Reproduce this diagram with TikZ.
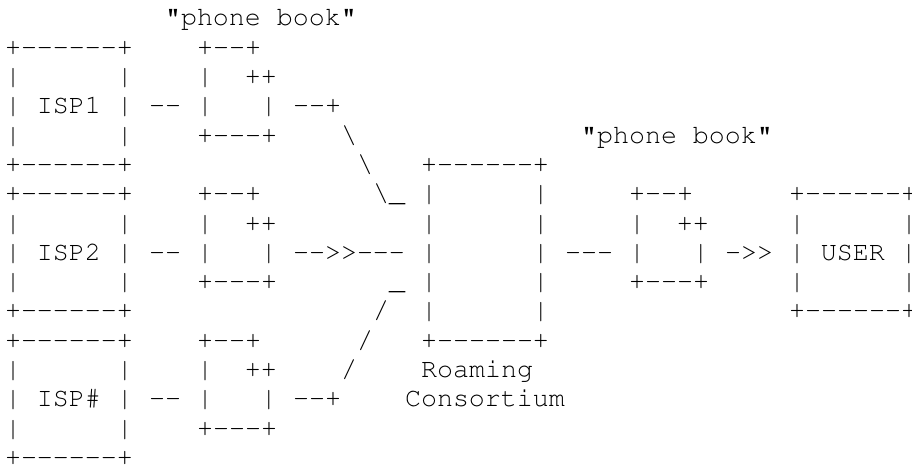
\documentclass[tikz,border=0pt]{standalone}
\usepackage[T1]{fontenc}
\usepackage{tikz}
\usetikzlibrary{positioning}
\newcommand{\asciifont}{\fontfamily{pcr}\fontsize{13.333pt}{14.65pt}\selectfont}
\tikzset{
    ascii/.style={
        font=\asciifont,
        anchor=base west,
        inner sep=0pt,
        outer sep=0pt
    }
}

\begin{document}
\begin{tikzpicture}[x=8pt, y=-14.65pt]
  \useasboundingbox (-2.5pt,13pt) rectangle (453.5pt,-219.5pt);

  % ISP boxes with their phone books ({} keeps -- and >> from ligatures)
  \node[ascii] (pbtitle1) at (10,0) {"phone~book"};
  \foreach \isp/\lbl/\out [count=\k from 0] in {1/ISP1/{-{}-+}, 2/ISP2/{-{}->{}>-{}-{}-}, 3/ISP\#/{-{}-+}} {
    \pgfmathtruncatemacro{\row}{1+5*\k}
    \node[ascii] (isp\isp top) at (0,\row)   {+-{}-{}-{}-{}-{}-+};
    \node[ascii] (isp\isp a)   at (0,\row+1) {|~~~~~~|};
    \node[ascii] (isp\isp)     at (0,\row+2) {|~\lbl~|};
    \node[ascii] (isp\isp b)   at (0,\row+3) {|~~~~~~|};
    \node[ascii] (isp\isp bot) at (0,\row+4) {+-{}-{}-{}-{}-{}-+};
    \node[ascii] (link\isp)    at (9,\row+2) {-{}-};
    \node[ascii] (pb\isp top)  at (12,\row)   {+-{}-+};
    \node[ascii] (pb\isp fold) at (12,\row+1) {|~~++};
    \node[ascii] (pb\isp)      at (12,\row+2) {|~~~|};
    \node[ascii] (pb\isp bot)  at (12,\row+3) {+-{}-{}-+};
    \node[ascii] (out\isp)     at (18,\row+2) {\out};
  }

  % Lines into the consortium
  \node[ascii] (upa) at (21,4)  {\textbackslash};
  \node[ascii] (upb) at (22,5)  {\textbackslash};
  \node[ascii] (upc) at (23,6)  {\textbackslash\_};
  \node[ascii] (lowa) at (24,9)  {\_};
  \node[ascii] (lowb) at (23,10) {/};
  \node[ascii] (lowc) at (22,11) {/};
  \node[ascii] (lowd) at (21,12) {/};

  % Roaming consortium
  \node[ascii] (roamtop) at (26,5) {+-{}-{}-{}-{}-{}-+};
  \foreach \y in {6,...,10}
    \node[ascii] (roam\y) at (26,\y) {|~~~~~~|};
  \node[ascii] (roambot) at (26,11) {+-{}-{}-{}-{}-{}-+};
  \node[ascii] (roaming) at (26,12) {Roaming};
  \node[ascii] (consortium) at (25,13) {Consortium};

  % Phone book for the user
  \node[ascii] (pbtitle2) at (36,4) {"phone~book"};
  \node[ascii] (linkroam) at (35,8) {-{}-{}-};
  \node[ascii] (pbusertop)  at (39,6) {+-{}-+};
  \node[ascii] (pbuserfold) at (39,7) {|~~++};
  \node[ascii] (pbuser)     at (39,8) {|~~~|};
  \node[ascii] (pbuserbot)  at (39,9) {+-{}-{}-+};
  \node[ascii] (touser) at (45,8) {->{}>};

  % User
  \node[ascii] (usertop) at (49,6)  {+-{}-{}-{}-{}-{}-+};
  \node[ascii] (usera)   at (49,7)  {|~~~~~~|};
  \node[ascii] (user)    at (49,8)  {|~USER~|};
  \node[ascii] (userb)   at (49,9)  {|~~~~~~|};
  \node[ascii] (userbot) at (49,10) {+-{}-{}-{}-{}-{}-+};
\end{tikzpicture}
\end{document}
